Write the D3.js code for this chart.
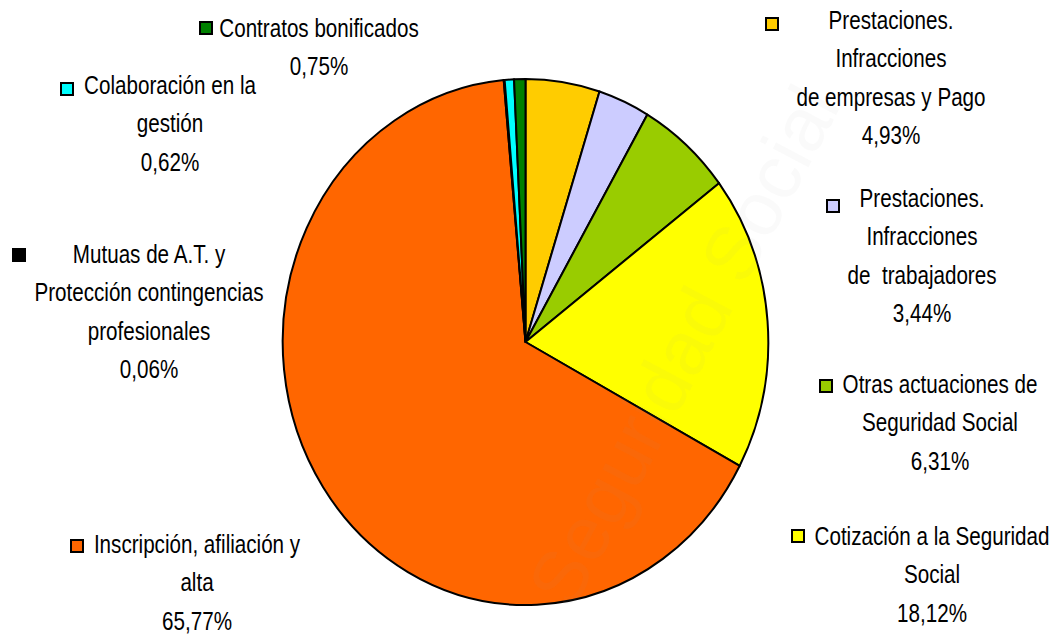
<!DOCTYPE html>
<html>
<head>
<meta charset="utf-8">
<script src="https://cdn.jsdelivr.net/npm/d3@7"></script>
<style>
  html, body { margin: 0; padding: 0; background: #ffffff; }
  svg { display: block; }
  text { font-family: "Liberation Sans", Arial, sans-serif; }
</style>
</head>
<body>
<svg id="chart" width="1057" height="634"></svg>
<script>
// ---- data ----
const categories = [
  "Prestaciones. Infracciones de empresas y Pago",
  "Prestaciones. Infracciones de trabajadores",
  "Otras actuaciones de Seguridad Social",
  "Cotización a la Seguridad Social",
  "Inscripción, afiliación y alta",
  "Mutuas de A.T. y Protección contingencias profesionales",
  "Colaboración en la gestión",
  "Contratos bonificados"
];
const values = [4.93, 3.44, 6.31, 18.12, 65.77, 0.06, 0.62, 0.75];
const labelLines = [
  ["Prestaciones.", "Infracciones", "de empresas y Pago"],
  ["Prestaciones.", "Infracciones", "de  trabajadores"],
  ["Otras actuaciones de", "Seguridad Social"],
  ["Cotización a la Seguridad", "Social"],
  ["Inscripción, afiliación y", "alta"],
  ["Mutuas de A.T. y", "Protección contingencias", "profesionales"],
  ["Colaboración en la", "gestión"],
  ["Contratos bonificados"]
];
const colors = ["#FFCC00", "#CCCCFF", "#99CC00", "#FFFF00", "#FF6600", "#000000", "#00FFFF", "#008000"];

// ---- layout (label placement, not data) ----
const labelLayout = [
  { cx: 891, y0: 29,  sx: 766, sy: 18 },
  { cx: 922, y0: 207, sx: 827, sy: 200 },
  { cx: 940, y0: 393, sx: 820, sy: 380 },
  { cx: 932, y0: 545, sx: 792, sy: 530 },
  { cx: 197, y0: 553, sx: 71,  sy: 540 },
  { cx: 149, y0: 263, sx: 13,  sy: 249 },
  { cx: 170, y0: 94,  sx: 61,  sy: 83 },
  { cx: 319, y0: 37,  sx: 200, sy: 22 }
];

const svg = d3.select("#chart");
const W = 1057, H = 634;
const cx = 525.5, cy = 342, ry = 263, rx = 242.8;
const fontSize = 25, squeeze = 0.825, lineGap = 38.5;

// pie
const pie = d3.pie().sort(null).value(d => d).startAngle(0).endAngle(2 * Math.PI);
const arc = d3.arc().innerRadius(0).outerRadius(ry);
const arcs = pie(values);

const g = svg.append("g")
  .attr("transform", `translate(${cx},${cy}) scale(${rx / ry},1)`);

g.selectAll("path.slice")
  .data(arcs)
  .join("path")
  .attr("class", "slice")
  .attr("d", arc)
  .attr("fill", (d, i) => colors[i])
  .attr("stroke", "#000")
  .attr("stroke-width", 2)
  .attr("stroke-linejoin", "round")
  .attr("vector-effect", "non-scaling-stroke");

// very faint watermark
svg.append("text")
  .attr("transform", `translate(572,612) rotate(-62)`)
  .attr("font-size", 76)
  .attr("fill", "#a0a0a0")
  .attr("fill-opacity", 0.05)
  .text("Seguridad Social");

// labels
const fmt = v => d3.format(".2f")(v).replace(".", ",") + "%";

arcs.forEach((a, i) => {
  const L = labelLayout[i];
  const lines = labelLines[i].concat([fmt(values[i])]);
  svg.append("rect")
    .attr("x", L.sx).attr("y", L.sy)
    .attr("width", 12).attr("height", 12)
    .attr("fill", colors[i])
    .attr("stroke", "#000")
    .attr("stroke-width", 2);
  const tg = svg.append("g")
    .attr("transform", `translate(${L.cx},0) scale(${squeeze},1)`);
  lines.forEach((ln, k) => {
    tg.append("text")
      .attr("x", 0)
      .attr("y", L.y0 + k * lineGap)
      .attr("text-anchor", "middle")
      .attr("font-size", fontSize)
      .attr("fill", "#000")
      .attr("xml:space", "preserve")
      .text(ln);
  });
});
</script>
</body>
</html>
